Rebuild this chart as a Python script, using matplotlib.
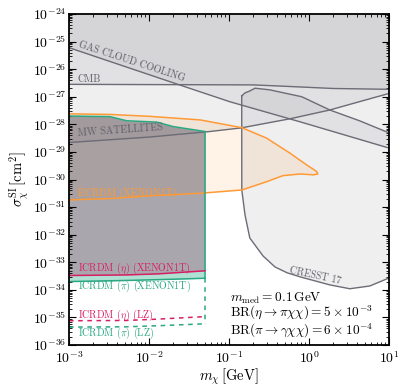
import numpy as np
import matplotlib
matplotlib.use("Agg")
import matplotlib.pyplot as plt

plt.rcParams['font.family'] = 'serif'
plt.rcParams['font.serif'] = ['cmr10']
plt.rcParams['mathtext.fontset'] = 'cm'
plt.rcParams['axes.formatter.use_mathtext'] = True
plt.rcParams['axes.unicode_minus'] = False

# log10 values
gas_x = [-3.0, -1.65, -0.99, -0.11, 1.0]
gas_y = [-25.22, -26.54, -27.18, -27.91, -28.86]

cmb_x = [-3.0, -0.7, -0.3, 0.3, 1.0]
cmb_y = [-26.55, -26.57, -26.62, -26.70, -26.73]

mw_x = [-3.0, -1.99, -1.24, -0.85, -0.24, 0.26, 0.64, 1.0]
mw_y = [-28.66, -28.46, -28.26, -28.13, -27.80, -27.48, -27.17, -26.88]

cresst_x = [-0.841, -0.80, -0.74, -0.675, -0.49, -0.09, 0.26, 0.64, 1.0,
            1.0, 0.76, 0.51, 0.26, -0.11, -0.275, -0.425, -0.575, -0.74, -0.80, -0.84, -0.841]
cresst_y = [-26.97, -26.86, -26.79, -26.69, -26.75, -27.00, -27.48, -27.88, -28.31,
            -33.57, -33.86, -33.96, -33.82, -33.53, -33.38, -33.17, -32.77, -32.12, -31.28, -30.38, -26.97]

ecrdm_x = [-3.0, -2.49, -1.99, -1.36, -0.84, -0.53, -0.24, -0.03, 0.096, 0.11,
           0.054, -0.11, -0.325, -0.53, -0.84, -1.36, -1.99, -2.49, -3.0]
ecrdm_y = [-27.62, -27.64, -27.71, -27.84, -28.12, -28.50, -29.04, -29.47, -29.71, -29.80,
           -29.83, -29.80, -29.86, -30.08, -30.38, -30.50, -30.59, -30.69, -30.74]

icrdm_top_x = [-3.0, -2.49, -2.28, -1.90, -1.70, -1.30]
icrdm_top_y = [-27.70, -27.72, -27.87, -27.92, -28.08, -28.26]

icr_x = [-3.0, -2.29, -1.88, -1.30]
eta_xe = [-33.48, -33.46, -33.42, -33.31]
pi_xe = [-33.70, -33.66, -33.63, -33.58]
eta_lz = [-35.12, -35.11, -35.06, -34.97]
pi_lz = [-35.35, -35.34, -35.30, -35.23]

p = lambda v: 10.0 ** np.array(v)

fig = plt.figure(figsize=(4.07, 3.91), dpi=100)
ax = fig.add_axes([0.1695, 0.1176, 0.7863, 0.8466])
ax.set_xscale('log')
ax.set_yscale('log')
ax.set_xlim(1e-3, 1e1)
ax.set_ylim(1e-36, 1e-24)

gfill = '#74747e'
ga = 0.11
lc = '#6c6c76'
top = 1e-24

ax.fill_between(p(gas_x), p(gas_y), top, color=gfill, alpha=ga, lw=0)
ax.fill_between(p(cmb_x), p(cmb_y), top, color=gfill, alpha=ga, lw=0)
ax.fill_between(p(mw_x), p(mw_y), top, color=gfill, alpha=ga, lw=0)
ax.fill(p(cresst_x), p(cresst_y), color=gfill, alpha=ga, lw=0)
ax.plot(p(gas_x), p(gas_y), color=lc, lw=1)
ax.plot(p(cmb_x), p(cmb_y), color=lc, lw=1)
ax.plot(p(mw_x), p(mw_y), color=lc, lw=1)
ax.plot(p(cresst_x), p(cresst_y), color=lc, lw=1)

ax.fill(p(ecrdm_x), p(ecrdm_y), color='#ff9a35', alpha=0.12, lw=0)
ax.plot(p(ecrdm_x), p(ecrdm_y), color='#ff9a35', lw=1.1)

# ICRDM regions
ax.fill_between(p(icr_x), p(pi_xe), p(eta_xe), color='#2fb08a', alpha=0.38, lw=0)
tx = np.array(icrdm_top_x)
ty = np.array(icrdm_top_y)
ex = np.interp(tx, icr_x, eta_xe)
ax.fill_between(p(tx), p(ex), p(ty), color='#635d6a', alpha=0.55, lw=0)

green = '#2aa882'
pink = '#d81e63'
ax.plot(p(icrdm_top_x), p(icrdm_top_y), color=green, lw=1.1)
ax.plot(p(icr_x), p(pi_xe), color=green, lw=1.1)
ax.plot([p(-1.30)] * 2, [p(icrdm_top_y[-1]), p(pi_xe[-1])], color=green, lw=1.1)
ax.plot(p(icr_x), p(eta_xe), color=pink, lw=1.1)
ax.plot(p(icr_x), p(eta_lz), color=pink, lw=1.1, ls=(0, (3, 3)))
ax.plot(p(icr_x), p(pi_lz), color=green, lw=1.1, ls=(0, (3, 3)))
ax.plot([p(-1.30)] * 2, [p(pi_xe[-1]), p(pi_lz[-1])], color=green, lw=1.1, ls=(0, (3, 3)))

tc = '#5f5f6a'
fs = 7.2
ax.text(p(-2.89), p(-25.20), 'GAS CLOUD COOLING', color=tc, fontsize=fs, rotation=-18,
        rotation_mode='anchor', ha='left', va='baseline')
ax.text(p(-2.89), p(-26.45), 'CMB', color=tc, fontsize=fs, ha='left', va='baseline')
ax.text(p(-2.89), p(-28.44), 'MW SATELLITES', color=tc, fontsize=fs, rotation=4,
        rotation_mode='anchor', ha='left', va='baseline')
ax.text(p(-0.25), p(-33.38), 'CRESST 17', color=tc, fontsize=fs, rotation=-12,
        rotation_mode='anchor', ha='left', va='baseline')
fc = 7.2
ax.text(p(-2.89), p(-30.59), 'ECRDM (XENON1T)', color='#ff9a35', fontsize=fc, ha='left', va='baseline')
ax.text(p(-2.89), p(-33.31), r'ICRDM ($\eta$) (XENON1T)', color=pink, fontsize=fc, ha='left', va='baseline')
ax.text(p(-2.89), p(-33.96), r'ICRDM ($\pi$) (XENON1T)', color=green, fontsize=fc, ha='left', va='baseline')
ax.text(p(-2.89), p(-35.00), r'ICRDM ($\eta$) (LZ)', color=pink, fontsize=fc, ha='left', va='baseline')
ax.text(p(-2.89), p(-35.65), r'ICRDM ($\pi$) (LZ)', color=green, fontsize=fc, ha='left', va='baseline')

af = 9.6
ax.text(p(-0.99), p(-34.42), r'$m_{\rm med} = 0.1\,{\rm GeV}$', fontsize=af, ha='left', va='baseline')
ax.text(p(-0.99), p(-34.98), r'${\rm BR}(\eta \rightarrow \pi\chi\chi) = 5 \times 10^{-3}$', fontsize=af, ha='left', va='baseline')
ax.text(p(-0.99), p(-35.64), r'${\rm BR}(\pi \rightarrow \gamma\chi\chi) = 6 \times 10^{-4}$', fontsize=af, ha='left', va='baseline')

ax.set_xlabel(r'$m_\chi\,[{\rm GeV}]$', fontsize=10.5, labelpad=1)
ax.set_ylabel(r'$\sigma_\chi^{\rm SI}\,[{\rm cm}^2]$', fontsize=10.5, labelpad=1)
ax.set_yticks(10.0 ** np.arange(-36, -23))
ax.yaxis.set_minor_locator(matplotlib.ticker.LogLocator(base=10, subs=np.arange(2, 10), numticks=30))
ax.tick_params(which='both', direction='in', top=True, right=True, labelsize=10)
ax.tick_params(axis='y', which='major', pad=2)
ax.tick_params(which='major', length=5, width=0.8)
ax.tick_params(which='minor', length=2.5, width=0.6)
for s in ax.spines.values():
    s.set_linewidth(1.3)

fig.savefig('out.png', dpi=100)
